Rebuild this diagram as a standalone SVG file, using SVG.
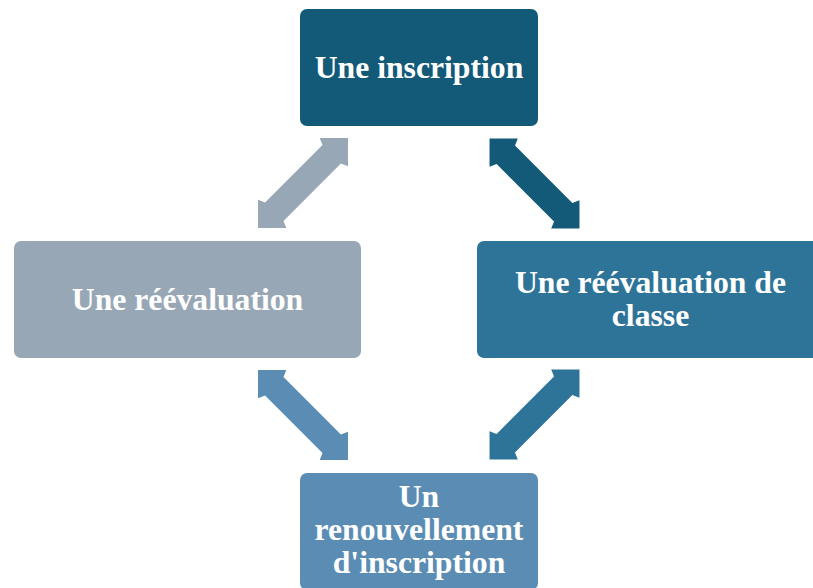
<svg xmlns="http://www.w3.org/2000/svg" width="813" height="588" viewBox="0 0 813 588">
<style>
.lbl{font-family:"Liberation Serif","Times New Roman",serif;font-weight:bold;font-size:31.7px;fill:#ffffff;text-anchor:middle}
</style>
<defs>
<path id="dbl" d="M -63.6 0 L -43.6 -20 L -40.6 -13 L 40.6 -13 L 43.6 -20 L 63.6 0 L 43.6 20 L 40.6 13 L -40.6 13 L -43.6 20 Z"/>
</defs>
<rect width="813" height="588" fill="#ffffff"/>
<g id="connectors">
<use href="#dbl" fill="#98a7b6" transform="translate(303,183) rotate(-45)"/>
<use href="#dbl" fill="#135a79" transform="translate(534.5,183.5) rotate(45)"/>
<use href="#dbl" fill="#5b8db4" transform="translate(303,415) rotate(45)"/>
<use href="#dbl" fill="#2e7499" transform="translate(534.5,414.5) rotate(-45)"/>
</g>
<g id="node-inscription">
<rect x="300" y="9" width="238" height="117" rx="7" fill="#135a79"/>
<text class="lbl" x="419" y="78">Une inscription</text>
</g>
<g id="node-reevaluation">
<rect x="14" y="241" width="347" height="117" rx="7" fill="#98a7b6"/>
<text class="lbl" x="187.5" y="310">Une réévaluation</text>
</g>
<g id="node-reevaluation-classe">
<rect x="477" y="241" width="347" height="117" rx="7" fill="#2e7499"/>
<text class="lbl" x="650.5" y="293">Une réévaluation de</text>
<text class="lbl" x="650.5" y="326">classe</text>
</g>
<g id="node-renouvellement">
<rect x="300" y="473" width="238" height="117" rx="7" fill="#5b8db4"/>
<text class="lbl" x="419" y="507">Un</text>
<text class="lbl" x="419" y="540">renouvellement</text>
<text class="lbl" x="419" y="573">d'inscription</text>
</g>
</svg>
